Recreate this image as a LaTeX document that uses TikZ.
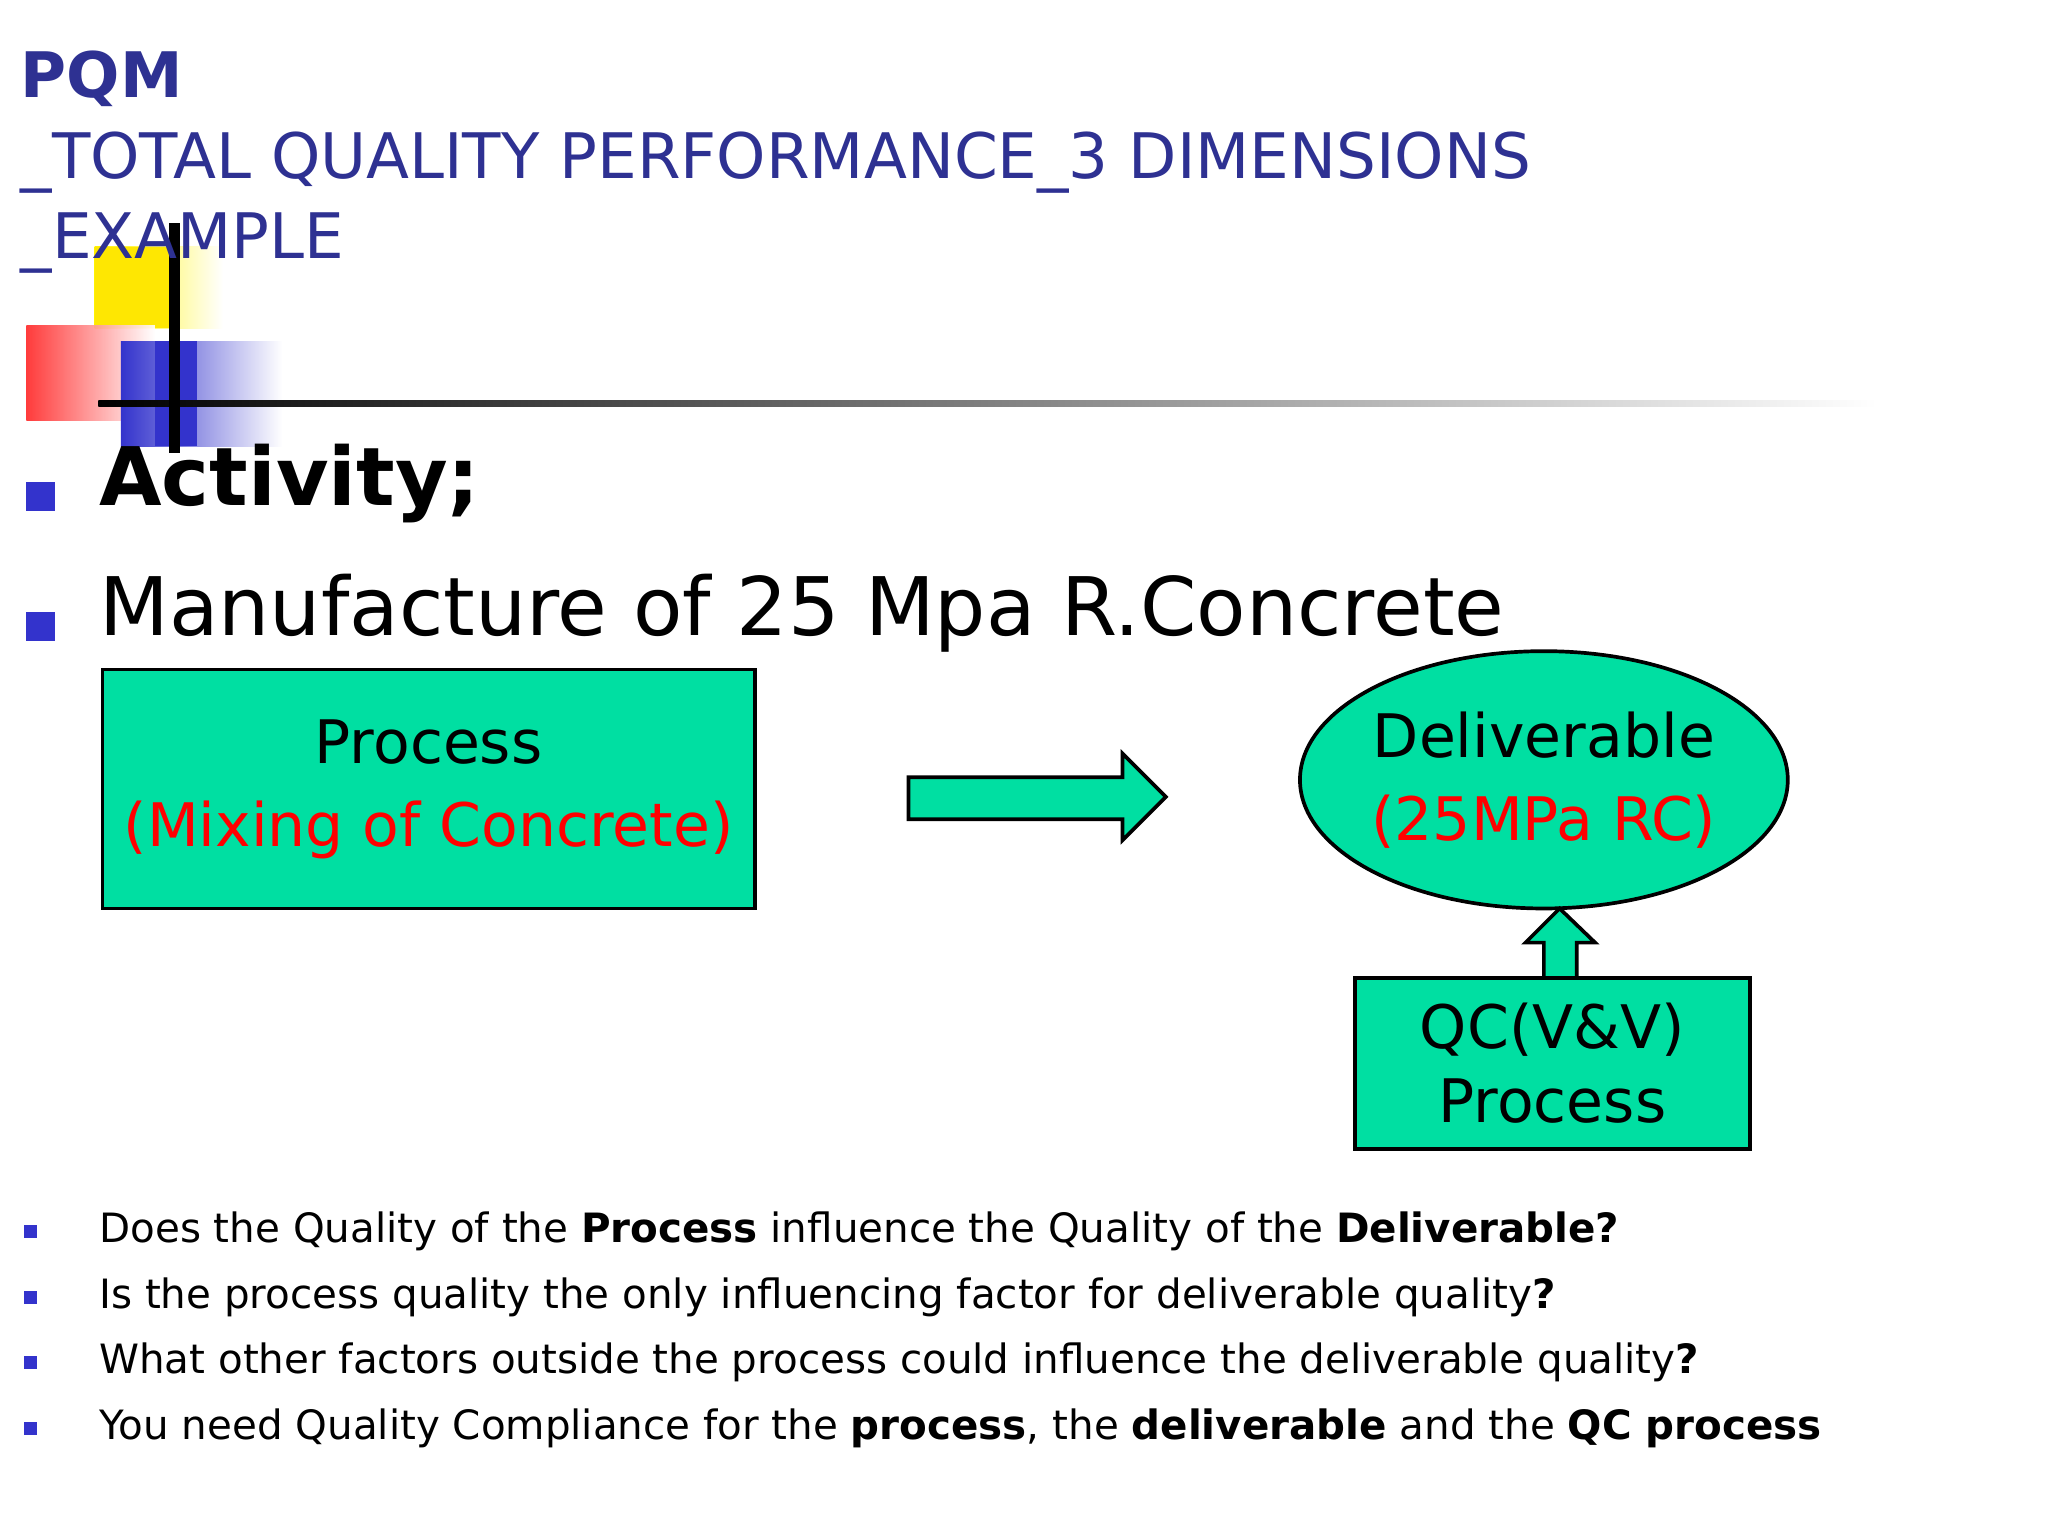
\documentclass[tikz,border=0pt]{standalone}
\usepackage{fontspec}
\setmainfont{DejaVu Sans}
\usetikzlibrary{shapes.geometric,shapes.arrows}
\definecolor{tq}{HTML}{00DFA2}
\definecolor{navy}{HTML}{2E3192}
\definecolor{bul}{HTML}{3333CC}
\tikzset{px/.style={x=0.01cm,y=-0.01cm},
 boxs/.style={draw=black,fill=tq,line width=0.8pt},
 big/.style={font=\fontsize{13}{16}\selectfont,align=center},
 qtext/.style={anchor=west,font=\fontsize{8.75}{11}\selectfont,inner sep=0},
 sq/.style={fill=bul}}
\begin{document}
\begin{tikzpicture}[px]
\useasboundingbox (0,0) rectangle (1560,1170);
% decoration
\shade[left color=yellow!90!orange, right color=white] (72,188) rectangle (170,250);
\fill[yellow!90!orange] (72,188) rectangle (130,250);
\shade[left color=red!85, right color=white,opacity=0.9] (20,248) rectangle (118,320);
\shade[left color=bul, right color=white] (92,260) rectangle (215,340);
\fill[bul] (118,260) rectangle (150,340);
\shade[left color=black,right color=white,middle color=gray] (75,305) rectangle (1430,310);
\draw[line width=2.5pt] (133,170) -- (133,345);
% title
\node[anchor=north west,inner sep=0,text=navy,align=left,font=\fontsize{13.6}{17.5}\selectfont] (title) at (15,38)
 {\textbf{PQM}\\\_TOTAL QUALITY PERFORMANCE\_3 DIMENSIONS\\\_EXAMPLE};
% main bullets
\fill[sq] (20,367) rectangle (42,389);
\node[anchor=west,inner sep=0,font=\fontsize{17.5}{22}\selectfont\bfseries] (act) at (75,368) {Activity;};
\fill[sq] (20,466) rectangle (42,488);
\node[anchor=west,inner sep=0,font=\fontsize{17.5}{22}\selectfont] (man) at (75,467) {Manufacture of 25 Mpa R.Concrete};
% shapes
\node[boxs,minimum width=497*0.01cm,minimum height=182*0.01cm,big] (proc) at (326.5,601)
 {Process\\[2pt]\textcolor{red}{(Mixing of Concrete)}};
\draw[boxs] (692,592) -- (855,592) -- (855,574) -- (888,607) -- (855,640) -- (855,624) -- (692,624) -- cycle;
\node[ellipse,boxs,minimum width=366*0.01cm,minimum height=196*0.01cm,big,inner sep=0] (del) at (1176,594)
 {Deliverable\\[2pt]\textcolor{red}{(25MPa RC)}};
\node[boxs,minimum width=301*0.01cm,minimum height=130*0.01cm,big] (qc) at (1182.5,810)
 {QC(V\&V)\\Process};
\draw[boxs] (1176,745) -- (1176,718) -- (1162,718) -- (1188,692) -- (1215,718) -- (1201,718) -- (1201,745) -- cycle;
% questions
\foreach \y in {938,988,1038,1088} \fill[sq] (18,\y-5) rectangle (28,\y+5);
\node[qtext] (q1) at (75,938) {Does the Quality of the \textbf{Process} influence the Quality of the \textbf{Deliverable?}};
\node[qtext] (q2) at (75,988) {Is the process quality the only influencing factor for deliverable quality\textbf{?}};
\node[qtext] (q3) at (75,1038) {What other factors outside the process could influence the deliverable quality\textbf{?}};
\node[qtext] (q4) at (75,1088) {You need Quality Compliance for the \textbf{process}, the \textbf{deliverable} and the \textbf{QC process}};
\end{tikzpicture}
\end{document}
